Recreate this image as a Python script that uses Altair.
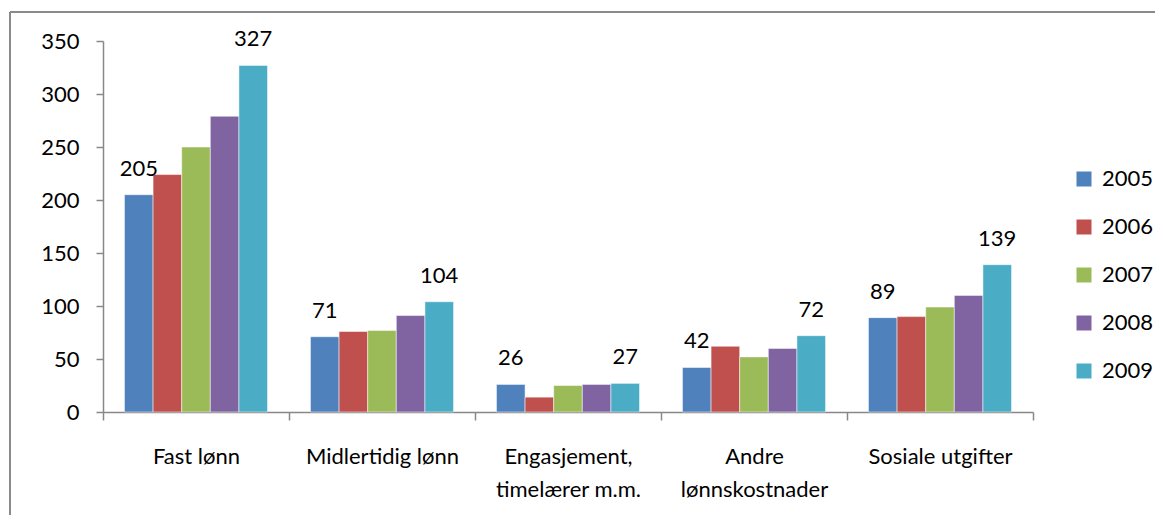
import altair as alt
import pandas as pd

categories = ["Fast lønn", "Midlertidig lønn", "Engasjement,|timelærer m.m.", "Andre|lønnskostnader", "Sosiale utgifter"]
years = ["2005", "2006", "2007", "2008", "2009"]
values = {
    "2005": [205, 71, 26, 42, 89],
    "2006": [224, 76, 14, 62, 90],
    "2007": [250, 77, 25, 52, 99],
    "2008": [279, 91, 26, 60, 110],
    "2009": [327, 104, 27, 72, 139],
}
labelled_years = ["2005", "2009"]
colors = ["#4F81BD", "#C0504D", "#9BBB59", "#8064A2", "#4BACC6"]

rows = []
for y in years:
    for c, v in zip(categories, values[y]):
        rows.append({"cat": c, "year": y, "value": v})
df = pd.DataFrame(rows)

FONT = "Lato"
W, H = 930, 371

x = alt.X("cat:N", sort=categories, title=None,
          scale=alt.Scale(paddingInner=0, paddingOuter=0),
          axis=alt.Axis(labelExpr="split(datum.label, '|')", labelAngle=0,
                        tickBand="extent", tickSize=8, labelPadding=26,
                        labelLineHeight=33, labelFontSize=22, labelFont=FONT,
                        labelColor="black", domainColor="#888888", tickColor="#888888",
                        domainWidth=1.5, tickWidth=1.5, labelBaseline="top"))
y = alt.Y("value:Q", title=None,
          scale=alt.Scale(domain=[0, 350], nice=False),
          axis=alt.Axis(values=list(range(0, 351, 50)), grid=False, tickSize=7,
                        labelPadding=17, labelFontSize=22, labelFont=FONT,
                        labelColor="black", domainColor="#888888", tickColor="#888888",
                        domainWidth=1.5, tickWidth=1.5))
xoff = alt.XOffset("year:N", sort=years, scale=alt.Scale(paddingInner=0, paddingOuter=0.75))

bars = alt.Chart(df).mark_bar(stroke="white", strokeWidth=0.5).encode(
    x=x, y=y, xOffset=xoff,
    color=alt.Color("year:N", sort=years, title=None,
                    scale=alt.Scale(domain=years, range=colors),
                    legend=alt.Legend(orient="none", legendX=970, legendY=127,
                                      symbolType="square", symbolSize=225,
                                      symbolStrokeWidth=0, labelFontSize=22,
                                      labelFont=FONT, labelColor="black",
                                      rowPadding=26, padding=0, labelOffset=7)),
)

texts = alt.Chart(df).transform_filter(
    alt.FieldOneOfPredicate(field="year", oneOf=labelled_years)
).mark_text(baseline="alphabetic", dy=-19, fontSize=22, font=FONT, color="black").encode(
    x=x, y=y, xOffset=xoff, text=alt.Text("value:Q"),
)

frame_data = alt.Data(values=[{}])
frame_left = alt.Chart(frame_data).mark_rule(color="#8a8a8a", strokeWidth=2).encode(
    x=alt.value(-93), y=alt.value(-29), y2=alt.value(H + 200))
frame_top = alt.Chart(frame_data).mark_rule(color="#8a8a8a", strokeWidth=2).encode(
    x=alt.value(-93), x2=alt.value(W + 200), y=alt.value(-29))

chart = alt.layer(frame_left, frame_top, bars, texts).properties(
    width=W, height=H,
    background="white",
    autosize=alt.AutoSizeParams(type="none"),
    padding={"left": 95, "top": 33, "right": 122, "bottom": 103},
).configure_view(stroke=None)

chart.save("out.html", embed_options={"renderer": "svg", "actions": False})
